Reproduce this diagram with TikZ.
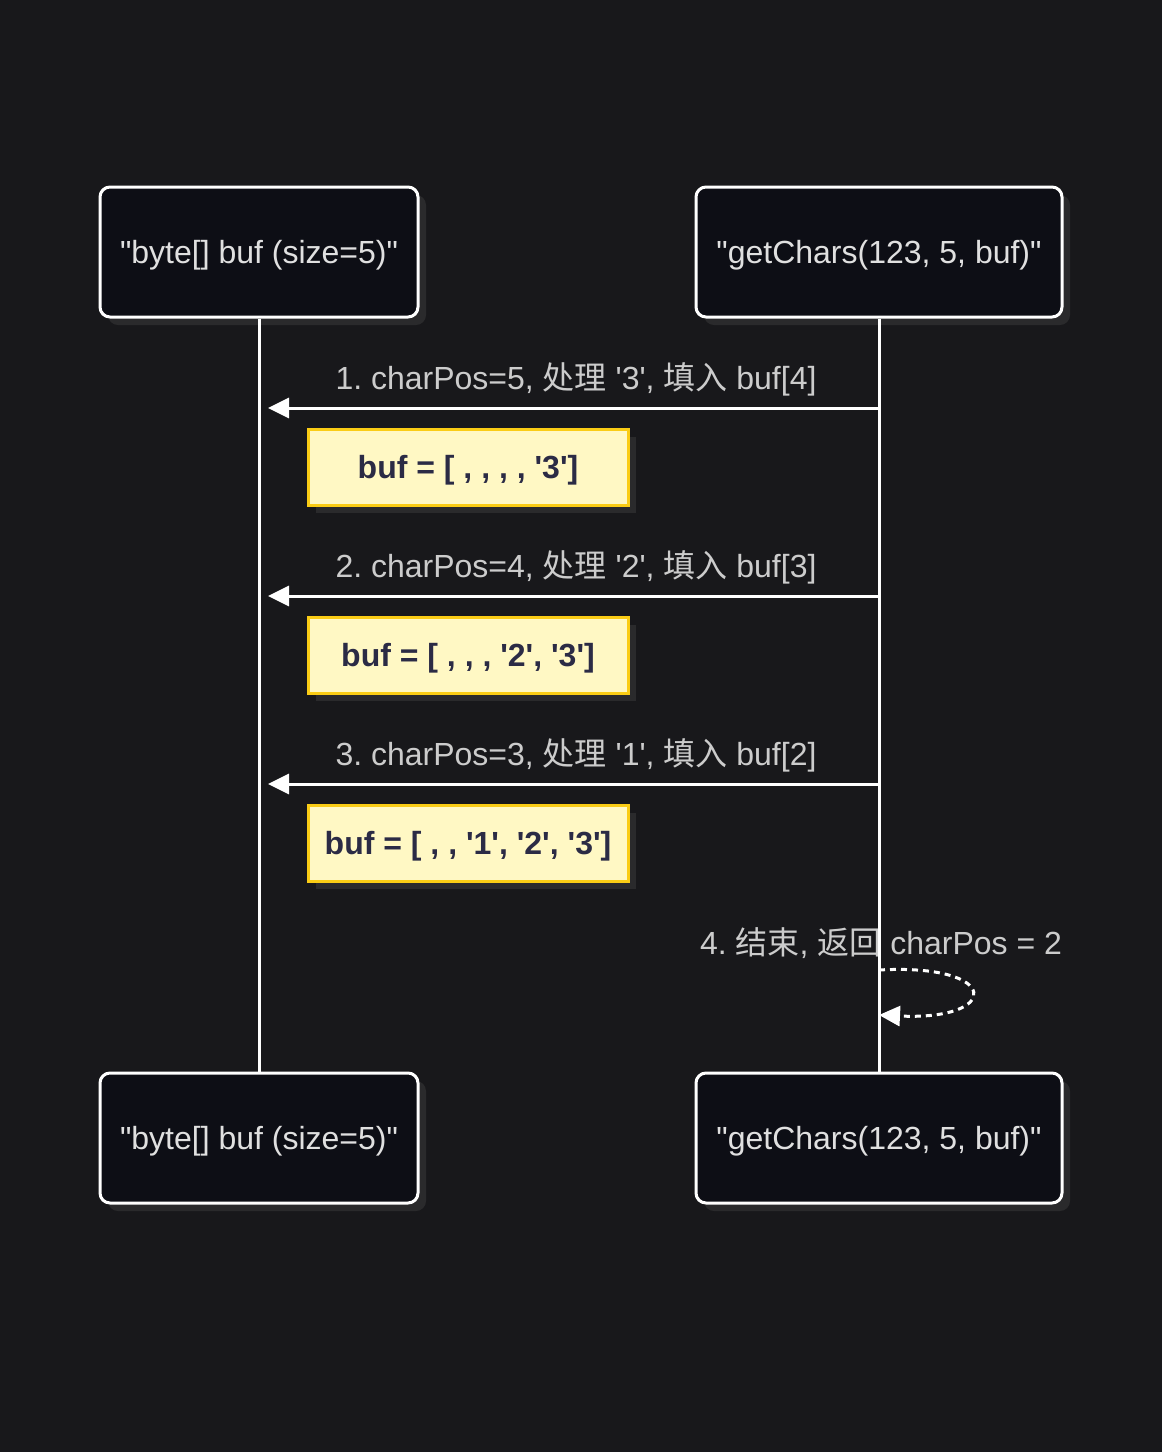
\documentclass[tikz,border=0pt]{standalone}
\usepackage{fontspec}
\setmainfont{Liberation Sans}[Ligatures=TeXOff]
\newfontfamily\cjk{Noto Sans CJK SC}
\usetikzlibrary{arrows.meta,shadows}
\definecolor{bgcol}{RGB}{24,24,27}
\definecolor{actorfill}{RGB}{13,14,21}
\definecolor{actortext}{RGB}{224,224,224}
\definecolor{msgtext}{RGB}{204,204,204}
\definecolor{shadowcol}{RGB}{42,42,44}
\definecolor{notefill}{RGB}{255,248,196}
\definecolor{notebord}{RGB}{250,204,21}
\definecolor{notetext}{RGB}{43,43,69}
\newcommand{\zh}[1]{{\cjk #1}}
\frenchspacing
\tikzset{
  actor/.style={draw=white, line width=3pt, rounded corners=10pt, fill=actorfill,
    text=actortext, inner sep=0pt, minimum height=130pt, text height=23pt, text depth=0pt,
    font=\fontsize{32}{38}\selectfont,
    drop shadow={shadow xshift=8pt, shadow yshift=-8pt, fill=shadowcol, opacity=1}},
  note/.style={draw=notebord, line width=3pt, fill=notefill, text=notetext,
    minimum width=320pt, minimum height=76pt, inner sep=0pt, text height=23pt, text depth=1pt,
    font=\fontsize{32}{38}\selectfont\bfseries,
    drop shadow={shadow xshift=8pt, shadow yshift=-8pt, fill=shadowcol, opacity=1}},
  msglabel/.style={text=msgtext, font=\fontsize{32}{38}\selectfont},
  life/.style={draw=white, line width=3pt},
  msg/.style={draw=white, line width=3pt, -{Triangle[length=21pt,width=20pt]}, shorten >=9pt},
  selfmsg/.style={draw=white, line width=3pt, dash pattern=on 6pt off 5pt,
    -{Triangle[length=21pt,width=20pt]}}
}
\begin{document}
\begin{tikzpicture}[x=1pt, y=-1pt]
    \fill[bgcol] (0,0) rectangle (1162,1452);
    \useasboundingbox (0,0) rectangle (1162,1452);

    % Teilnehmer
    \node[actor, minimum width=318pt] (bufTop) at (259,252) {"byte[] buf (size=5)"};
    \node[actor, minimum width=366pt] (getTop) at (879,252) {"getChars(123, 5, buf)"};
    \node[actor, minimum width=318pt] (bufBot) at (259,1138) {"byte[] buf (size=5)"};
    \node[actor, minimum width=366pt] (getBot) at (879,1138) {"getChars(123, 5, buf)"};

    % Nachrichten
    \node[msglabel] (lbl1) at (576,379) {1. charPos=5, \zh{处理} '3', \zh{填入} buf[4]};
    \draw[msg] (getTop.south |- 0,408) -- (bufTop.south |- 0,408);
    \node[note] (note1) at (468,467) {buf = [ , , , , '3']};

    \node[msglabel] (lbl2) at (576,567) {2. charPos=4, \zh{处理} '2', \zh{填入} buf[3]};
    \draw[msg] (getTop.south |- 0,596) -- (bufTop.south |- 0,596);
    \node[note] (note2) at (468,655) {buf = [ , , , '2', '3']};

    \node[msglabel] (lbl3) at (576,755) {3. charPos=3, \zh{处理} '1', \zh{填入} buf[2]};
    \draw[msg] (getTop.south |- 0,784) -- (bufTop.south |- 0,784);
    \node[note] (note3) at (468,843) {buf = [ , , '1', '2', '3']};

    \node[msglabel] (lbl4) at (881,943) {4. \zh{结束}, \zh{返回} charPos = 2};

    % Lebenslinien
    \draw[life] (bufTop.south) -- (bufBot.north);
    \draw[life] (getTop.south) -- (getBot.north);

    % Rueckgabe
    \draw[selfmsg] (getTop.south |- 0,970) .. controls (1002,963) and (1002,1021) .. (getTop.south |- 0,1015);
\end{tikzpicture}
\end{document}
